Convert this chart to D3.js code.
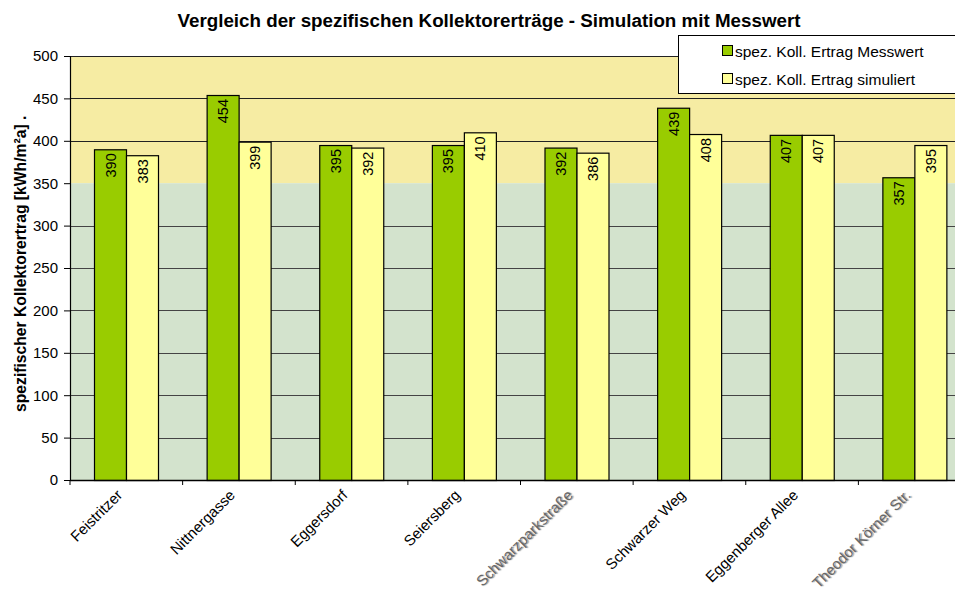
<!DOCTYPE html>
<html><head><meta charset="utf-8">
<script src="https://cdn.jsdelivr.net/npm/d3@7"></script>
<style>body{margin:0;background:#fff;overflow:hidden}svg{display:block;font-family:"Liberation Sans",Arial,sans-serif}</style>
</head><body>
<script>
const categories = ["Feistritzer","Nittnergasse","Eggersdorf","Seiersberg","Schwarzparkstraße","Schwarzer Weg","Eggenberger Allee","Theodor Körner Str."];
const messwert = [390,454,395,395,392,439,407,357];
const simuliert = [383,399,392,410,386,408,407,395];
const seriesNames = ["spez. Koll. Ertrag Messwert","spez. Koll. Ertrag simuliert"];
const yTicks = [0,50,100,150,200,250,300,350,400,450,500];
const grayLabels = ["Schwarzparkstraße","Theodor Körner Str."];

const W = 955, H = 591;
const pL = 70, pT = 56, pB = 480, pR = 971;
const svg = d3.select("body").append("svg").attr("width", W).attr("height", H);

const x = d3.scaleBand().domain(categories).range([pL, pR]).paddingInner(0).paddingOuter(0);
const y = d3.scaleLinear().domain([0,500]).range([pB, pT]);

// background bands
svg.append("rect").attr("x",pL).attr("y",y(500)).attr("width",pR-pL).attr("height",y(350)-y(500)).attr("fill","#f6eca3");
svg.append("rect").attr("x",pL).attr("y",y(350)).attr("width",pR-pL).attr("height",y(0)-y(350)).attr("fill","#d3e3cd");

// gridlines
svg.append("g").selectAll("line").data(yTicks.filter(function(d){return d>0 && d!==350;})).join("line")
  .attr("x1",pL).attr("x2",pR)
  .attr("y1",function(d){return Math.round(y(d))+0.5;}).attr("y2",function(d){return Math.round(y(d))+0.5;})
  .attr("stroke",function(d){return d<350?"#444":"#222";}).attr("stroke-width",1);

// bars
const barW = 32, off = 24;
const g = svg.append("g");
categories.forEach(function(cat,i){
  const x0 = x(cat) + off;
  [[messwert[i],"#99cc00"],[simuliert[i],"#ffff99"]].forEach(function(pair,j){
    const v = pair[0], col = pair[1];
    const bx = x0 + j*barW;
    g.append("rect").attr("x",bx+0.5).attr("y",y(v)+0.5).attr("width",barW).attr("height",y(0)-y(v))
      .attr("fill",col).attr("stroke","#000").attr("stroke-width",1.2);
    g.append("text").attr("transform","translate("+(bx+barW/2+0.5)+","+(y(v)+4)+") rotate(-90)")
      .attr("text-anchor","end").attr("dominant-baseline","central")
      .attr("font-size",14.5).attr("fill","#000").text(v);
  });
});

// axes
const yAxis = svg.append("g").attr("transform","translate("+pL+",0)")
  .call(d3.axisLeft(y).tickValues(yTicks).tickSize(6).tickPadding(6));
yAxis.select(".domain").attr("stroke","#000").attr("stroke-width",1.2);
yAxis.selectAll("text").attr("font-size",15).attr("fill","#000").attr("font-family","Liberation Sans, Arial, sans-serif");
yAxis.selectAll(".tick line").attr("stroke","#000");

const tickPos = categories.map(function(cat){return x(cat);});
svg.append("line").attr("x1",pL).attr("x2",pR).attr("y1",pB+0.5).attr("y2",pB+0.5).attr("stroke","#000").attr("stroke-width",1.5);
svg.append("g").selectAll("line").data(tickPos).join("line")
  .attr("x1",function(d){return d;}).attr("x2",function(d){return d;}).attr("y1",pB).attr("y2",pB+5).attr("stroke","#000");

// x labels
const xl = svg.append("g");
categories.forEach(function(cat){
  const isGray = grayLabels.indexOf(cat) >= 0;
  const t = xl.append("text")
    .attr("transform","translate("+(x(cat)+x.bandwidth()/2-3)+","+(pB+16)+") rotate(-45)")
    .attr("text-anchor","end").attr("font-size",15)
    .attr("fill", isGray ? "#666" : "#000")
    .text(cat);
  if (isGray) t.style("text-shadow","1px 1px 1px #999");
});

// y title
svg.append("text").attr("transform","translate(26,412) rotate(-90)")
  .attr("text-anchor","start").attr("font-size",15.7).attr("font-weight","bold")
  .text("spezifischer Kollektorertrag [kWh/m²a] .");

// title
svg.append("text").attr("x",489).attr("y",27).attr("text-anchor","middle")
  .attr("font-size",18.8).attr("font-weight","bold").text("Vergleich der spezifischen Kollektorerträge - Simulation mit Messwert");

// legend
const lg = svg.append("g");
lg.append("rect").attr("x",678.5).attr("y",35.5).attr("width",300).attr("height",58).attr("fill","#fff").attr("stroke","#000");
[["#99cc00",seriesNames[0],51],["#ffff99",seriesNames[1],79]].forEach(function(it){
  lg.append("rect").attr("x",722.5).attr("y",it[2]-5.5).attr("width",10).attr("height",10).attr("fill",it[0]).attr("stroke","#000");
  lg.append("text").attr("x",735).attr("y",it[2]).attr("dominant-baseline","central").attr("font-size",15.5).text(it[1]);
});
</script>
</body></html>
